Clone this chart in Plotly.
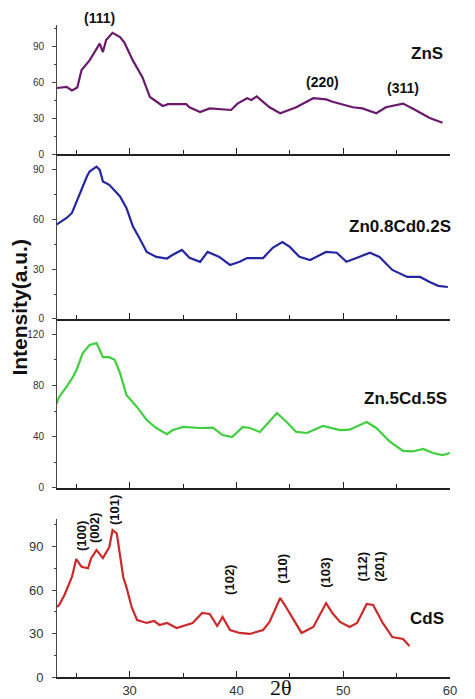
import plotly.graph_objects as go

# ---- data ----
zns_x = [23.2, 24.1, 24.6, 25.1, 25.5, 26.25, 27.2, 27.5, 27.8, 28.4, 29.1, 29.5, 30.3, 31.2, 31.9, 33.1, 33.6, 35.3, 35.6, 36.6, 37.5, 39.5, 40.1, 41.0, 41.4, 41.9, 42.5, 43.1, 44.1, 45.6, 47.2, 48.4, 49.0, 49.7, 50.9, 51.8, 53.1, 54.0, 55.0, 55.6, 56.5, 58.1, 59.3]
zns_y = [55, 56, 53, 55.5, 70, 78, 92, 85, 95, 101, 97.5, 93, 78, 64, 47.5, 40, 41.5, 41.5, 39, 35, 38, 36.7, 42, 46.5, 45, 48, 43.5, 39, 34, 39, 46.5, 45.5, 43.5, 42, 39, 38, 34, 39, 41, 42, 38, 30, 26]

zc82_x = [23.1, 24.1, 24.6, 25.1, 26.0, 26.25, 26.9, 27.2, 27.5, 28.1, 29.1, 29.7, 30.3, 30.9, 31.6, 32.5, 33.5, 34.0, 34.9, 35.6, 36.6, 37.3, 38.4, 39.4, 40.3, 41.0, 42.5, 43.4, 44.3, 45.0, 45.9, 46.9, 48.4, 49.4, 50.3, 51.3, 52.5, 53.4, 54.6, 56.0, 57.2, 58.1, 58.9, 59.8]
zc82_y = [56.8, 61, 64, 72, 86, 89, 92, 90, 83, 81, 74, 67, 56, 49, 40.5, 37.5, 36.5, 38.6, 41.7, 37, 34.5, 40.5, 37.5, 32.6, 34.5, 36.8, 36.8, 43, 46.5, 43.5, 37.5, 35.6, 40.5, 40, 34.5, 37, 40, 37.5, 29.6, 25.4, 25.4, 22.3, 20, 19.3]

zc55_x = [23.1, 23.4, 24.1, 24.7, 25.1, 25.6, 26.25, 26.9, 27.2, 27.5, 28.1, 28.6, 29.1, 29.7, 30.7, 31.6, 32.5, 33.5, 34.0, 35.0, 36.6, 37.8, 38.7, 39.6, 40.6, 41.25, 42.2, 43.8, 44.7, 45.6, 46.6, 48.1, 49.7, 50.6, 52.2, 53.1, 54.4, 55.6, 56.5, 57.5, 58.4, 59.3, 60.0]
zc55_y = [64.7, 71, 79, 86.6, 93.6, 105, 111.5, 113, 107.6, 102, 102, 100, 89.7, 72.5, 63, 53, 46.8, 42, 45, 47.6, 46.8, 47, 41.3, 39.8, 47.6, 46.8, 43.7, 58.5, 51.5, 43.7, 42.9, 48.4, 45.2, 45.5, 51.5, 46.8, 35.9, 28.9, 28.5, 30.4, 27.3, 25.7, 27.3]

cds_x = [23.2, 23.4, 23.9, 24.6, 25.0, 25.5, 26.1, 26.4, 26.9, 27.5, 28.1, 28.4, 28.8, 29.1, 29.4, 29.7, 30.2, 30.7, 31.6, 32.3, 32.8, 33.5, 34.4, 35.9, 36.8, 37.5, 38.2, 38.7, 39.4, 40.3, 41.25, 42.5, 43.1, 44.1, 44.5, 46.1, 47.2, 48.4, 49.0, 49.7, 50.6, 51.3, 52.2, 52.8, 53.7, 54.6, 55.6, 56.2]
cds_y = [48.3, 49.7, 56.6, 69, 81.4, 76, 75, 82, 87.6, 82, 89.7, 101.4, 99, 83, 69, 62, 48, 39.3, 37.3, 38.6, 35.9, 37.3, 33.8, 37.3, 44.2, 43.5, 35.2, 41.4, 32.4, 30.4, 29.7, 32.4, 38, 54.5, 50, 30.4, 34.5, 51, 44, 38, 34.5, 37.3, 50.4, 49.7, 37.3, 27.6, 26.2, 21.4]

sample_names = ["ZnS", "Zn0.8Cd0.2S", "Zn.5Cd.5S", "CdS"]
x_ticks = [30, 40, 50, 60]

zns_peaks = ["(111)", "(220)", "(311)"]
zns_peak_x = [27.2, 48.1, 55.6]
zns_peak_y = [113, 60, 55]

cds_peaks = ["(100)", "(002)", "(101)", "(102)", "(110)", "(103)", "(112)<br>(201)"]
cds_peak_x = [25.5, 26.7, 28.6, 39.4, 44.3, 48.4, 52.6]
cds_peak_y = [97, 103, 115, 67, 75, 72, 76]

colors = ["#6a1a6c", "#2626a2", "#3fcf3f", "#cc2a2a"]

fig = go.Figure()
series = [(zns_x, zns_y), (zc82_x, zc82_y), (zc55_x, zc55_y), (cds_x, cds_y)]
for i, (xs, ys) in enumerate(series):
    sfx = "" if i == 0 else str(i + 1)
    fig.add_trace(go.Scatter(x=xs, y=ys, mode="lines", name=sample_names[i],
                             line=dict(color=colors[i], width=2.2),
                             xaxis="x" + sfx, yaxis="y" + sfx, showlegend=False))

# pixel-derived domains (plot area 652px tall)
domains = [[0.8021, 1.0], [0.5491, 0.8006], [0.2899, 0.5475], [0.0, 0.2423]]
yranges = [[0, 107.5], [0, 99], [0, 131], [0, 109]]
ydticks = [30, 30, 40, 30]
tickfont_small = dict(family="Liberation Sans, Arial, sans-serif", size=10, color="#333")
tickfont_big = dict(family="Liberation Sans, Arial, sans-serif", size=13, color="#333")

layout = {}
for i in range(4):
    sfx = "" if i == 0 else str(i + 1)
    last = (i == 3)
    layout["xaxis" + sfx] = dict(
        domain=[0, 1], range=[23.2, 60], anchor="y" + sfx,
        matches=None if i == 0 else "x", automargin=False,
        showline=True, linecolor="#222", linewidth=1.5,
        ticks="inside", ticklen=6, tickcolor="#222", dtick=10, tick0=0,
        showticklabels=last, tickfont=tickfont_big, ticklabelstandoff=1,
        minor=dict(ticks="inside", ticklen=4, dtick=5, tick0=0, tickcolor="#222"),
        showgrid=False, zeroline=False)
    layout["yaxis" + sfx] = dict(
        domain=domains[i], range=yranges[i], anchor="x" + sfx, automargin=False,
        showline=True, linecolor="#444", linewidth=1,
        ticks="outside", ticklen=4, tickcolor="#444", dtick=ydticks[i], tick0=0,
        ticklabelstandoff=6,
        tickfont=tickfont_big if last else tickfont_small,
        minor=dict(ticks="outside", ticklen=2, dtick=ydticks[i] / 2, tick0=0, tickcolor="#444"),
        showgrid=False, zeroline=False)
layout["xaxis4"]["tickvals"] = x_ticks


def paper_y(yv, dom, rng):
    return dom[0] + (yv - rng[0]) / (rng[1] - rng[0]) * (dom[1] - dom[0])


annotations = []
lblfont = dict(family="Liberation Sans, Arial, sans-serif", size=14, color="#111")
for t, x, y in zip(zns_peaks, zns_peak_x, zns_peak_y):
    annotations.append(dict(text="<b>%s</b>" % t, x=x, y=paper_y(y, domains[0], yranges[0]),
                            xref="x", yref="paper", xanchor="center", yanchor="middle",
                            showarrow=False, font=lblfont))
for t, x, y in zip(cds_peaks, cds_peak_x, cds_peak_y):
    annotations.append(dict(text="<b>%s</b>" % t, x=x, y=paper_y(y, domains[3], yranges[3]),
                            xref="x4", yref="paper", xanchor="center", yanchor="middle",
                            showarrow=False, textangle=-90,
                            font=dict(family="Liberation Sans, Arial, sans-serif", size=13, color="#111")))
name_pos = [(57.8, 84), (55.3, 55.6), (55.8, 70), (57.8, 40.7)]
for i, (name, (x, y)) in enumerate(zip(sample_names, name_pos)):
    annotations.append(dict(text="<b>%s</b>" % name, x=x, y=paper_y(y, domains[i], yranges[i]),
                            xref="x", yref="paper", xanchor="center", yanchor="middle",
                            showarrow=False,
                            font=dict(family="Liberation Sans, Arial, sans-serif", size=17, color="#111")))
annotations.append(dict(text="<b>Intensity(a.u.)</b>", x=-0.096, y=0.567, xref="paper", yref="paper",
                        xanchor="center", yanchor="middle",
                        showarrow=False, textangle=-90,
                        font=dict(family="Liberation Sans, Arial, sans-serif", size=21, color="#111")))
annotations.append(dict(text="2θ", x=44.2, y=-0.0155, xref="x4", yref="paper",
                        xanchor="center", yanchor="middle", showarrow=False,
                        font=dict(family="Liberation Serif, Times New Roman, serif", size=22, color="#111")))

fig.update_layout(**layout)
# the page body adds an 8px offset, so margins are shifted to compensate
fig.update_layout(
    width=475, height=699,
    margin=dict(l=49, r=33, t=17, b=30),
    paper_bgcolor="white", plot_bgcolor="white",
    annotations=annotations,
    showlegend=False,
)
fig.write_html("out.html")
